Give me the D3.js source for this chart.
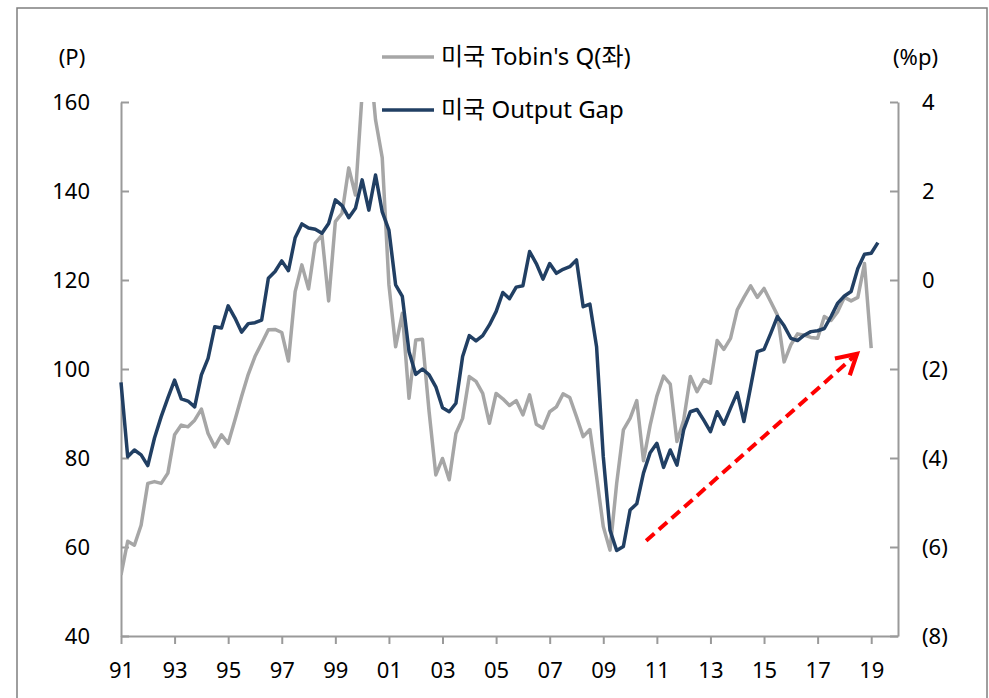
<!DOCTYPE html>
<html>
<head>
<meta charset="utf-8">
<script src="https://cdn.jsdelivr.net/npm/d3@7"></script>
<style>
body { margin: 0; background: #fff; }
text { font-family: "Noto Sans", "Noto Sans CJK KR", sans-serif; }
</style>
</head>
<body>
<div id="chart"></div>
<script>
var w = 989, h = 698;

// quarterly, first point = 1991 Q1
var startYear = 1991;
var seriesNames = ["미국 Tobin's Q(좌)", "미국 Output Gap"];

var tobinQ = [
  53.7, 61.3, 60.4, 64.9, 74.3, 74.7, 74.3, 76.6, 85.2, 87.4,
  87.0, 88.5, 91.0, 85.5, 82.5, 85.2, 83.3, 88.5, 93.8, 98.8,
  102.8, 105.8, 108.8, 108.9, 108.2, 101.8, 117.4, 123.4, 118.0, 128.3,
  130.1, 115.3, 133.1, 135.0, 145.2, 139.1, 162, 172, 156, 147.5,
  118.9, 105.0, 112.5, 93.4, 106.5, 106.7, 90.4, 76.2, 79.9, 75.1,
  85.5, 88.9, 98.3, 97.2, 94.5, 87.8, 94.5, 93.3, 91.8, 92.9,
  89.7, 94.2, 87.6, 86.7, 90.4, 91.5, 94.4, 93.6, 89.3, 84.8,
  86.4, 75.8, 64.6, 59.3, 74.3, 86.3, 88.9, 92.9, 79.4, 87.4,
  93.9, 98.4, 96.6, 83.7, 88.5, 98.3, 94.9, 97.6, 96.8, 106.4,
  104.4, 106.9, 113.3, 116.1, 118.7, 116.1, 118.1, 115.1, 112.1, 101.6,
  105.4, 107.9, 107.6, 107.1, 106.9, 111.8, 110.9, 112.9, 116.1, 115.3,
  116.1, 123.7, 104.7
];

var outputGap = [
  -2.3, -3.97, -3.82, -3.93, -4.17, -3.55, -3.07, -2.65, -2.25, -2.67,
  -2.72, -2.85, -2.13, -1.76, -1.05, -1.08, -0.58, -0.85, -1.17, -0.98,
  -0.96, -0.9, 0.04, 0.19, 0.43, 0.21, 0.95, 1.26, 1.17, 1.14,
  1.05, 1.27, 1.8, 1.67, 1.4, 1.61, 2.25, 1.57, 2.36, 1.53,
  1.12, -0.11, -0.37, -1.61, -2.12, -2.0, -2.13, -2.4, -2.87, -2.96,
  -2.77, -1.72, -1.25, -1.37, -1.25, -1.01, -0.71, -0.28, -0.42, -0.16,
  -0.13, 0.64, 0.37, 0.02, 0.37, 0.15, 0.24, 0.3, 0.45, -0.6,
  -0.54, -1.5, -3.97, -5.62, -6.08, -5.99, -5.17, -5.03, -4.34, -3.88,
  -3.67, -4.21, -3.82, -4.16, -3.37, -2.96, -2.91, -3.15, -3.41, -2.96,
  -3.24, -2.88, -2.53, -3.18, -2.4, -1.61, -1.56, -1.2, -0.82, -1.03,
  -1.31, -1.36, -1.24, -1.16, -1.14, -1.09, -0.82, -0.52, -0.36, -0.26,
  0.26, 0.58, 0.6, 0.84
];

var yearTicks = [1991, 1993, 1995, 1997, 1999, 2001, 2003, 2005, 2007, 2009, 2011, 2013, 2015, 2017, 2019];
var leftTicks = [40, 60, 80, 100, 120, 140, 160];
var rightTicks = [-8, -6, -4, -2, 0, 2, 4];

// trend arrow, in (year, output gap) units
var arrowFrom = [2010.6, -5.86];
var arrowTo = [2018.47, -1.66];

var grey = "#a6a6a6", navy = "#213f63", axisGrey = "#9a9a9a";

var x = d3.scaleLinear().domain([1991, 2020]).range([121, 898]);
var yL = d3.scaleLinear().domain([40, 160]).range([636, 102]);
var yR = d3.scaleLinear().domain([-8, 4]).range([636, 102]);

var svg = d3.select("#chart").append("svg")
  .attr("width", w)
  .attr("height", h);

// outer frame
svg.append("rect")
  .attr("x", 17).attr("y", 8)
  .attr("width", 970).attr("height", 720)
  .attr("fill", "none")
  .attr("stroke", "#7f7f7f")
  .attr("stroke-width", 1.5);

svg.append("clipPath").attr("id", "plot")
  .append("rect")
  .attr("x", 121).attr("y", 102)
  .attr("width", 777).attr("height", 534);

function styleAxis(g) {
  g.selectAll("path, line").attr("stroke", axisGrey).attr("stroke-width", 2);
  g.selectAll("text").attr("fill", "#000").style("font-size", "22px");
}

svg.append("g")
  .attr("transform", "translate(121,0)")
  .call(d3.axisLeft(yL).tickValues(leftTicks).tickSize(-8).tickSizeOuter(0).tickPadding(31))
  .call(styleAxis);

svg.append("g")
  .attr("transform", "translate(898,0)")
  .call(d3.axisRight(yR).tickValues(rightTicks).tickSize(-8).tickSizeOuter(0).tickPadding(24)
    .tickFormat(function(d) { return d < 0 ? "(" + (-d) + ")" : d; }))
  .call(styleAxis);

svg.append("g")
  .attr("transform", "translate(0,636)")
  .call(d3.axisBottom(x).tickValues(yearTicks).tickSize(8).tickSizeOuter(0).tickPadding(18)
    .tickFormat(function(d) { return String(d).slice(2); }))
  .call(styleAxis);

svg.selectAll("g.tick text").attr("font-family", null);

svg.append("text").attr("x", 72).attr("y", 57).attr("dy", "0.35em")
  .attr("text-anchor", "middle").style("font-size", "22px").text("(P)");
svg.append("text").attr("x", 893).attr("y", 57).attr("dy", "0.35em")
  .style("font-size", "22px").text("(%p)");

var qLine = d3.line()
  .x(function(d, i) { return x(startYear + i / 4); })
  .y(function(d) { return yL(d); });

var gLine = d3.line()
  .x(function(d, i) { return x(startYear + i / 4); })
  .y(function(d) { return yR(d); });

svg.append("path")
  .datum(tobinQ)
  .attr("clip-path", "url(#plot)")
  .attr("d", qLine)
  .attr("fill", "none")
  .attr("stroke", grey)
  .attr("stroke-width", 3.5)
  .attr("stroke-linejoin", "round");

svg.append("path")
  .datum(outputGap)
  .attr("d", gLine)
  .attr("fill", "none")
  .attr("stroke", navy)
  .attr("stroke-width", 3.5)
  .attr("stroke-linejoin", "round");

// red dashed trend arrow
svg.append("defs").append("marker")
  .attr("id", "head")
  .attr("viewBox", "0 0 10 10")
  .attr("refX", 8).attr("refY", 5)
  .attr("markerWidth", 7).attr("markerHeight", 7)
  .attr("markerUnits", "strokeWidth")
  .attr("orient", "auto")
  .append("path")
  .attr("d", "M1,1 L8,5 L1,9")
  .attr("fill", "none")
  .attr("stroke", "#ff0000")
  .attr("stroke-width", 1.5);

svg.append("line")
  .attr("x1", x(arrowFrom[0])).attr("y1", yR(arrowFrom[1]))
  .attr("x2", x(arrowTo[0])).attr("y2", yR(arrowTo[1]))
  .attr("stroke", "#ff0000")
  .attr("stroke-width", 4)
  .attr("stroke-dasharray", "11,6")
  .attr("marker-end", "url(#head)");

// legend
var legend = svg.selectAll("g.legend")
  .data(seriesNames)
  .enter().append("g")
  .attr("class", "legend")
  .attr("transform", function(d, i) { return "translate(382," + (57 + i * 53) + ")"; });

legend.append("line")
  .attr("x1", 0).attr("x2", 52)
  .attr("stroke", function(d, i) { return i == 0 ? grey : navy; })
  .attr("stroke-width", 3.5);

legend.append("text")
  .attr("x", 59)
  .attr("dy", "0.35em")
  .style("font-size", "24px")
  .text(function(d) { return d; });
</script>
</body>
</html>
